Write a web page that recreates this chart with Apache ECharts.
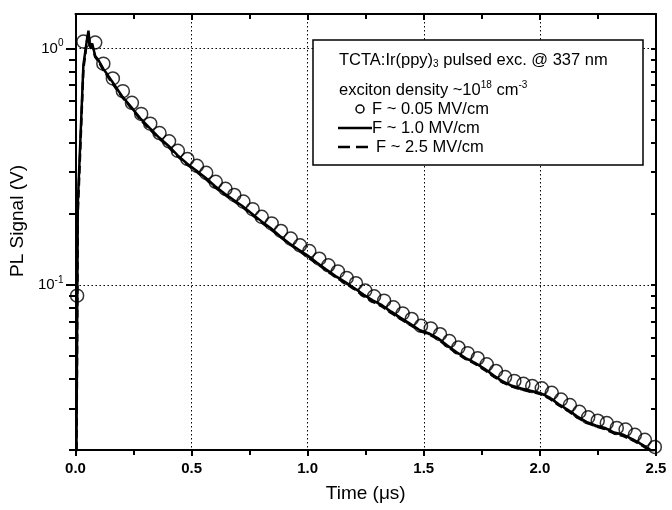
<!DOCTYPE html>
<html><head><meta charset="utf-8">
<script src="https://cdn.jsdelivr.net/npm/echarts@6/dist/echarts.min.js"></script>
<style>html,body{margin:0;padding:0;background:#fff}#c{width:672px;height:510px}</style>
</head><body><div id="c"></div>
<script>
// ---- data ----
const tCirc = [0.007,0.034,0.085,0.120,0.161,0.204,0.243,0.283,0.322,0.362,0.403,0.441,0.482,0.523,0.563,0.604,0.646,0.684,0.723,0.763,0.802,0.845,0.885,0.927,0.967,1.007,1.050,1.089,1.130,1.168,1.208,1.248,1.286,1.329,1.369,1.409,1.448,1.488,1.530,1.570,1.610,1.649,1.689,1.732,1.771,1.811,1.850,1.890,1.929,1.967,2.008,2.051,2.091,2.129,2.170,2.208,2.249,2.288,2.331,2.369,2.409,2.452,2.495];
const vCirc = [0.090,1.07,1.06,0.863,0.747,0.660,0.589,0.529,0.481,0.439,0.405,0.369,0.341,0.319,0.298,0.273,0.255,0.240,0.225,0.209,0.194,0.182,0.169,0.157,0.147,0.139,0.129,0.121,0.114,0.107,0.1016,0.0946,0.0894,0.0857,0.0803,0.0757,0.0717,0.0671,0.0654,0.0618,0.0578,0.0543,0.0514,0.0489,0.0461,0.0432,0.0407,0.0392,0.0381,0.0373,0.0365,0.0349,0.0327,0.0310,0.0290,0.0275,0.0266,0.0260,0.0248,0.0244,0.0232,0.0221,0.0206];
const tLine = [0.002,0.010,0.034,0.050,0.056,0.062,0.072,0.085,0.10,0.12,0.14,0.16,0.20,0.24,0.28,0.32,0.36,0.40,0.44,0.48,0.52,0.56,0.60,0.64,0.68,0.72,0.76,0.80,0.84,0.88,0.92,0.96,1.00,1.04,1.08,1.12,1.16,1.20,1.24,1.28,1.32,1.36,1.40,1.44,1.48,1.52,1.56,1.60,1.64,1.68,1.72,1.76,1.80,1.84,1.88,1.92,1.96,2.00,2.04,2.08,2.12,2.16,2.20,2.24,2.28,2.32,2.36,2.40,2.44,2.48,2.50];
const vSolid = [0.008,0.22,0.85,1.10,1.19,1.02,1.05,0.93,0.89,0.82,0.77,0.72,0.63,0.565,0.505,0.46,0.42,0.388,0.353,0.326,0.305,0.284,0.262,0.244,0.229,0.215,0.200,0.186,0.174,0.161,0.150,0.141,0.133,0.124,0.116,0.109,0.103,0.097,0.091,0.086,0.082,0.077,0.0725,0.0685,0.0645,0.0625,0.0595,0.0555,0.052,0.049,0.0468,0.0442,0.0414,0.0390,0.0374,0.0364,0.0356,0.0349,0.0334,0.0313,0.0296,0.0278,0.0263,0.0254,0.0248,0.0237,0.0232,0.0222,0.0211,0.0199,0.0192];
const vDashed = [0.007,0.20,0.82,1.08,1.16,1.00,1.03,0.92,0.88,0.81,0.76,0.71,0.625,0.56,0.50,0.455,0.416,0.384,0.350,0.323,0.302,0.281,0.259,0.242,0.227,0.213,0.198,0.184,0.172,0.160,0.149,0.140,0.131,0.123,0.115,0.108,0.102,0.096,0.090,0.085,0.081,0.076,0.0718,0.0678,0.064,0.0618,0.059,0.055,0.0515,0.0486,0.0464,0.0438,0.041,0.0387,0.0371,0.0361,0.0353,0.0346,0.0331,0.031,0.0293,0.0275,0.0261,0.0252,0.0245,0.0235,0.0229,0.022,0.0209,0.0197,0.019];
const yMajor = [0.1, 1];
const yMinor = [0.02,0.03,0.04,0.05,0.06,0.07,0.08,0.09,0.2,0.3,0.4,0.5,0.6,0.7,0.8,0.9];
const X_MIN = 0, X_MAX = 2.5, X_STEP = 0.5;
const Y_MIN = 0.02, Y_MAX = 1.4;
const seriesNames = ['F ~ 0.05 MV/cm', 'F ~ 1.0 MV/cm', 'F ~ 2.5 MV/cm'];

// ---- chart ----
const FONT = '"Liberation Sans", Arial, Helvetica, sans-serif';
const L = v => Math.log10(v);
const pairs = (xs, ys) => xs.map((x, i) => [x, ys[i]]);
const gridPos = {left: 75, right: 16, top: 14, bottom: 60};
const axLine = {show: true, onZero: false, lineStyle: {color: '#000', width: 2}};
const noLine = {show: false, onZero: false};
const chart = echarts.init(document.getElementById('c'), null, {renderer: 'canvas'});
const option = {
  animation: false,
  backgroundColor: '#fff',
  grid: [Object.assign({}, gridPos), Object.assign({}, gridPos), Object.assign({}, gridPos)],
  xAxis: [
    {gridIndex: 0, type: 'value', position: 'bottom', min: X_MIN, max: X_MAX, interval: X_STEP,
     axisLine: axLine,
     axisTick: {show: true, length: 6, lineStyle: {color: '#000', width: 2}},
     minorTick: {show: true, splitNumber: 2, length: 5, lineStyle: {color: '#000', width: 2}},
     axisLabel: {margin: 11, color: '#000', fontSize: 15, fontWeight: 'bold', fontFamily: FONT,
                 formatter: v => v.toFixed(1)},
     splitLine: {show: true, lineStyle: {type: [1.5, 2.5], color: '#000', width: 1}},
     name: 'Time (μs)', nameLocation: 'middle', nameGap: 34,
     nameTextStyle: {fontSize: 19, color: '#000', fontFamily: FONT}},
    {gridIndex: 0, type: 'value', position: 'top', min: X_MIN, max: X_MAX, interval: X_STEP,
     axisLine: axLine,
     axisTick: {show: true, inside: true, length: 6, lineStyle: {color: '#000', width: 2}},
     minorTick: {show: true, splitNumber: 2, length: 5, lineStyle: {color: '#000', width: 2}},
     axisLabel: {show: false}, splitLine: {show: false}},
    {gridIndex: 1, type: 'value', show: false, min: X_MIN, max: X_MAX, axisLine: noLine},
    {gridIndex: 2, type: 'value', show: false, min: X_MIN, max: X_MAX, axisLine: noLine}
  ],
  yAxis: [
    {gridIndex: 0, type: 'log', logBase: 10, min: Y_MIN, max: Y_MAX, position: 'left',
     axisLine: axLine, axisTick: {show: false},
     axisLabel: {showMinLabel: false, showMaxLabel: false, margin: 12, color: '#000',
                 fontSize: 15, fontFamily: FONT,
                 formatter: v => '10{sup|' + Math.round(Math.log10(v)) + '}',
                 rich: {sup: {fontSize: 10, fontFamily: FONT, color: '#000', padding: [0, 0, 10, 0]}}},
     splitLine: {show: true, lineStyle: {type: [1.5, 2.5], color: '#000', width: 1}},
     name: 'PL Signal (V)', nameLocation: 'middle', nameGap: 44,
     nameTextStyle: {fontSize: 19, color: '#000', fontFamily: FONT, padding: [0, 0, 0, 22]}},
    {gridIndex: 0, type: 'value', position: 'right', min: L(Y_MIN), max: L(Y_MAX),
     axisLine: axLine,
     axisTick: {show: true, inside: true, length: 5, customValues: yMajor.concat(yMinor).map(L),
                lineStyle: {color: '#000', width: 2}},
     axisLabel: {show: false}, splitLine: {show: false}},
    {gridIndex: 1, type: 'value', position: 'left', min: L(Y_MIN), max: L(Y_MAX),
     axisLine: noLine,
     axisTick: {show: true, length: 9, customValues: yMajor.map(L), lineStyle: {color: '#000', width: 2}},
     axisLabel: {show: false}, splitLine: {show: false}},
    {gridIndex: 2, type: 'value', position: 'left', min: L(Y_MIN), max: L(Y_MAX),
     axisLine: noLine,
     axisTick: {show: true, length: 6, customValues: yMinor.map(L), lineStyle: {color: '#000', width: 2}},
     axisLabel: {show: false}, splitLine: {show: false}}
  ],
  series: [
    {name: seriesNames[0], type: 'scatter', xAxisIndex: 0, yAxisIndex: 0, data: pairs(tCirc, vCirc),
     symbol: 'circle', symbolSize: 13,
     itemStyle: {color: 'rgba(255,255,255,0)', borderColor: '#000', borderWidth: 1.5}, z: 3},
    {name: seriesNames[1], type: 'line', xAxisIndex: 0, yAxisIndex: 0, data: pairs(tLine, vSolid),
     showSymbol: false, symbol: 'none', lineStyle: {color: '#000', width: 2.5, type: 'solid'}, z: 2},
    {name: seriesNames[2], type: 'line', xAxisIndex: 0, yAxisIndex: 0, data: pairs(tLine, vDashed),
     showSymbol: false, symbol: 'none', lineStyle: {color: '#000', width: 2.5, type: [8, 4]}, z: 2}
  ],
  graphic: [
    {type: 'rect', z: 100, shape: {x: 313, y: 40, width: 330, height: 125},
     style: {fill: '#fff', stroke: '#000', lineWidth: 1.5}},
    {type: 'text', z: 101, x: 339, y: 60,
     style: {text: 'TCTA:Ir(ppy){sub|3} pulsed exc. @ 337 nm', fontSize: 16.5, fontFamily: FONT, fill: '#000',
             verticalAlign: 'middle',
             rich: {sub: {fontSize: 10, fontFamily: FONT, fill: '#000', padding: [9, 0, 0, 0]}}}},
    {type: 'text', z: 101, x: 339, y: 90,
     style: {text: 'exciton density ~10{sup|18} cm{sup|-3}', fontSize: 16.5, fontFamily: FONT, fill: '#000',
             verticalAlign: 'middle',
             rich: {sup: {fontSize: 10, fontFamily: FONT, fill: '#000', padding: [0, 0, 10, 0]}}}},
    {type: 'circle', z: 101, shape: {cx: 360, cy: 109, r: 4},
     style: {fill: 'none', stroke: '#000', lineWidth: 1.5}},
    {type: 'text', z: 101, x: 372, y: 109,
     style: {text: seriesNames[0], fontSize: 16.5, fontFamily: FONT, fill: '#000', verticalAlign: 'middle'}},
    {type: 'line', z: 101, shape: {x1: 338, y1: 128, x2: 372, y2: 128},
     style: {stroke: '#000', lineWidth: 2.5}},
    {type: 'text', z: 101, x: 372, y: 128,
     style: {text: seriesNames[1], fontSize: 16.5, fontFamily: FONT, fill: '#000', verticalAlign: 'middle'}},
    {type: 'line', z: 101, shape: {x1: 338, y1: 147, x2: 368, y2: 147},
     style: {stroke: '#000', lineWidth: 2.5, lineDash: [12, 6]}},
    {type: 'text', z: 101, x: 376, y: 147,
     style: {text: seriesNames[2], fontSize: 16.5, fontFamily: FONT, fill: '#000', verticalAlign: 'middle'}}
  ]
};
chart.setOption(option);
</script>
</body></html>
